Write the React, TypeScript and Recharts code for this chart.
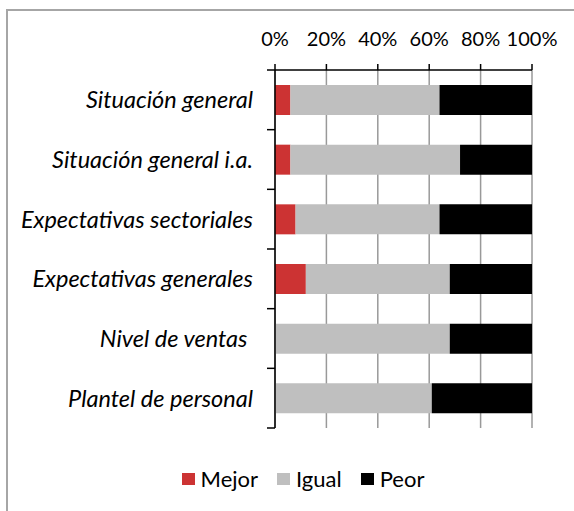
import React from 'react';
import { BarChart, Bar, XAxis, YAxis, CartesianGrid, Legend } from 'recharts';

const categories = [
  'Situación general',
  'Situación general i.a.',
  'Expectativas sectoriales',
  'Expectativas generales',
  'Nivel de ventas\u00a0',
  'Plantel de personal',
];
const mejor = [6, 6, 8, 12, 0, 0];
const igual = [58, 66, 56, 56, 68, 61];
const peor = [36, 28, 36, 32, 32, 39];
const xTicks = [0, 20, 40, 60, 80, 100];
const seriesNames = ['Mejor', 'Igual', 'Peor'];
const seriesColors = ['#cc3333', '#bfbfbf', '#000000'];

const data = categories.map((c, i) => ({
  name: c,
  Mejor: mejor[i],
  Igual: igual[i],
  Peor: peor[i],
}));

const FONT = 'Lato, "Open Sans", sans-serif';
const LABEL_MARGIN = 21;
const TICK_LEN = 8;

const CategoryTick = (props: any) => {
  const { x, y, payload, index } = props;
  const half = payload && payload.offset ? payload.offset : 0;
  const axisX = x + LABEL_MARGIN + 1;
  const last = index === categories.length - 1;
  return (
    <g>
      <text
        x={x}
        y={y}
        dy="0.36em"
        textAnchor="end"
        fill="#000"
        fontSize={23.5}
        fontFamily={FONT}
        fontStyle="italic"
      >
        {payload.value}
      </text>
      <line x1={axisX - TICK_LEN} x2={axisX} y1={y - half} y2={y - half} stroke="#000" strokeWidth={1.5} />
      {last && (
        <line x1={axisX - TICK_LEN} x2={axisX} y1={y + half} y2={y + half} stroke="#000" strokeWidth={1.5} />
      )}
    </g>
  );
};

const renderLegend = () => (
  <div
    style={{
      display: 'flex',
      justifyContent: 'center',
      alignItems: 'center',
      fontFamily: FONT,
      fontSize: 22,
      color: '#000',
    }}
  >
    {seriesNames.map((n, i) => (
      <div
        key={n}
        style={{ display: 'flex', alignItems: 'center', marginRight: i < seriesNames.length - 1 ? 19 : 0 }}
      >
        <span
          style={{ display: 'inline-block', width: 13, height: 12, background: seriesColors[i], marginRight: 6 }}
        />
        <span>{n}</span>
      </div>
    ))}
  </div>
);

export default function App() {
  return (
    <div style={{ position: 'absolute', left: 0, top: 0, width: 574, height: 511, overflow: 'hidden', background: '#fff' }}>
      <div
        style={{
          position: 'absolute',
          left: 6,
          top: 9,
          width: 700,
          height: 700,
          borderLeft: '2px solid #a6a6a6',
          borderTop: '2px solid #a6a6a6',
        }}
      />
      <div style={{ position: 'absolute', left: 0, top: 0 }}>
        <BarChart
          width={574}
          height={511}
          data={data}
          layout="vertical"
          margin={{ top: 10, right: 42, bottom: 83, left: 0 }}
          barCategoryGap={0}
        >
          <CartesianGrid horizontal={false} vertical stroke="#999999" strokeWidth={1.5} />
          <XAxis
            type="number"
            orientation="top"
            domain={[0, 100]}
            ticks={xTicks}
            interval={0}
            height={60}
            tickSize={6}
            tickMargin={18}
            tickFormatter={(v: number) => `${v}%`}
            axisLine={{ stroke: '#000', strokeWidth: 1.5 }}
            tickLine={{ stroke: '#000', strokeWidth: 1.5 }}
            tick={{ fill: '#000', fontSize: 20, fontFamily: FONT }}
            allowDataOverflow
          />
          <YAxis
            type="category"
            dataKey="name"
            width={275}
            interval={0}
            axisLine={{ stroke: '#000', strokeWidth: 1.5 }}
            tickLine={false}
            tickSize={0}
            tickMargin={LABEL_MARGIN + 1}
            tick={<CategoryTick />}
          />
          {seriesNames.map((s, i) => (
            <Bar
              key={s}
              dataKey={s}
              name={s}
              stackId="a"
              fill={seriesColors[i]}
              barSize={30}
              isAnimationActive={false}
            />
          ))}
          <Legend
            verticalAlign="middle"
            layout="horizontal"
            content={renderLegend}
            wrapperStyle={{ top: 465, left: 16, width: 574, height: 30 }}
          />
        </BarChart>
      </div>
    </div>
  );
}
